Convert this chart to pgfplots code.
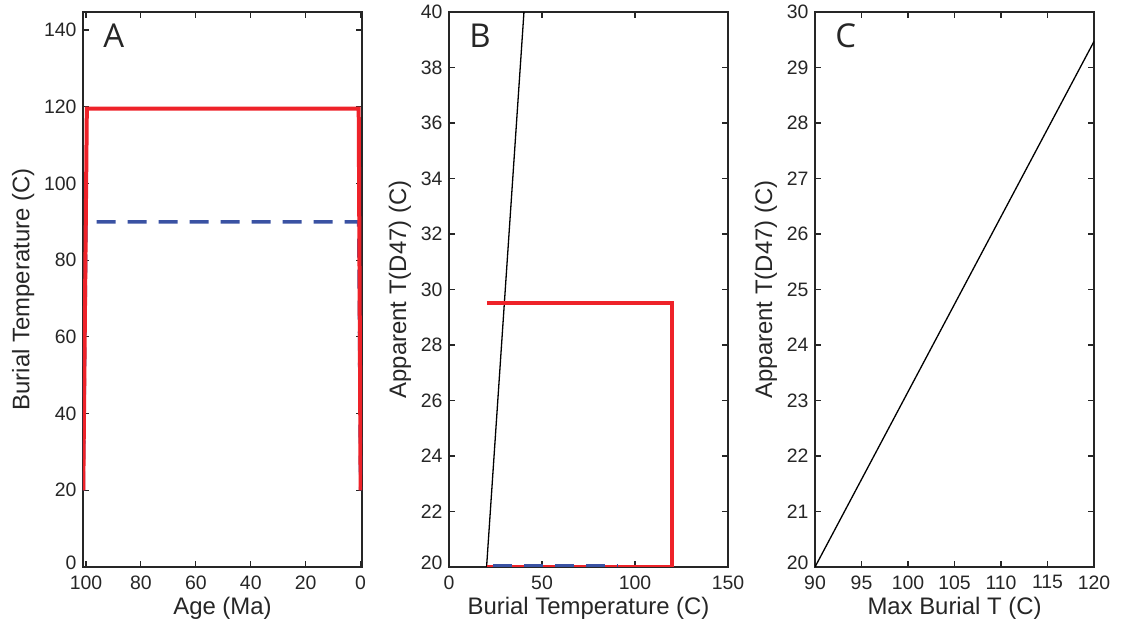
\documentclass[border=0pt]{standalone}
\usepackage{pgfplots}
\pgfplotsset{compat=1.18}
\usepackage{fontspec}
\setmainfont{Liberation Sans}
\newfontfamily\letterfont{Open Sans}
\definecolor{axc}{HTML}{262626}
\definecolor{myred}{HTML}{EE2229}
\definecolor{myblue}{HTML}{3A52A3}
\pgfplotsset{
  every axis/.append style={
    scale only axis, width=279bp, height=555bp,
    anchor=south west,
    axis line style={axc, line width=1.1bp},
    tick style={axc, line width=1.1bp},
    major tick length=6bp,
    tick align=inside,
    xtick pos=both, ytick pos=both,
    /pgf/number format/assume math mode=true,
    tick label style={font=\fontsize{19.5}{22}\selectfont, text=axc},
    xticklabel style={yshift=-5bp},
    yticklabel style={xshift=-3bp},
    extra y tick style={yticklabel style={yshift=4bp}},
    label style={font=\fontsize{24}{27}\selectfont, text=axc},
    xlabel style={yshift=-1bp},
    ylabel style={yshift=3bp},
    scaled ticks=false,
    /pgf/number format/1000 sep={},
  }
}
\begin{document}
\begin{tikzpicture}[x=1bp,y=1bp]
\path[use as bounding box] (0,0) rectangle (1122,628);
% Panel A
\begin{axis}[at={(83bp,61bp)},
  x dir=reverse, xmin=-0.5, xmax=101.1, ymin=0, ymax=144.7,
  xtick={0,20,...,100}, ytick={20,40,...,140}, extra y ticks={0},
  xlabel={Age (Ma)}, ylabel={Burial Temperature (C)}]
\addplot[myblue, line width=3.5bp, dash pattern=on 19bp off 12bp] coordinates {(101,20) (100,90) (0.7,90) (0,20)};
\addplot[myred, line width=4bp] coordinates {(101,20) (99.7,119.5) (0.7,119.5) (0,20)};
\node[anchor=north west, font=\letterfont\fontsize{33}{36}\selectfont, text=axc] at (axis description cs:0.06,0.985) {A};
\end{axis}
% Panel B
\begin{axis}[at={(449bp,61bp)},
  xmin=0, xmax=150, ymin=20, ymax=40,
  xtick={0,50,100,150}, ytick={22,24,...,40}, extra y ticks={20},
  xlabel={Burial Temperature (C)}, ylabel={Apparent T(D47) (C)}]
\addplot[black, line width=1.3bp] coordinates {(20.2,20) (40.3,40)};
\addplot[myred, line width=4bp] coordinates {(20.3,29.5) (119.8,29.5) (119.8,20) (20.3,20)};
\addplot[myblue, line width=3.5bp, dash pattern=on 19bp off 12bp, dash phase=-6bp] coordinates {(20.3,20.05) (90.3,20.05)};
\node[anchor=north west, font=\letterfont\fontsize{33}{36}\selectfont, text=axc] at (axis description cs:0.06,0.985) {B};
\end{axis}
% Panel C
\begin{axis}[at={(815bp,61bp)},
  xmin=90, xmax=120, ymin=20, ymax=30,
  xtick={90,95,...,120}, ytick={21,22,...,30}, extra y ticks={20},
  xlabel={Max Burial T (C)}, ylabel={Apparent T(D47) (C)}]
\addplot[black, line width=1.3bp] coordinates {(90,20) (120,29.47)};
\node[anchor=north west, font=\letterfont\fontsize{33}{36}\selectfont, text=axc] at (axis description cs:0.06,0.985) {C};
\end{axis}
\end{tikzpicture}
\end{document}
